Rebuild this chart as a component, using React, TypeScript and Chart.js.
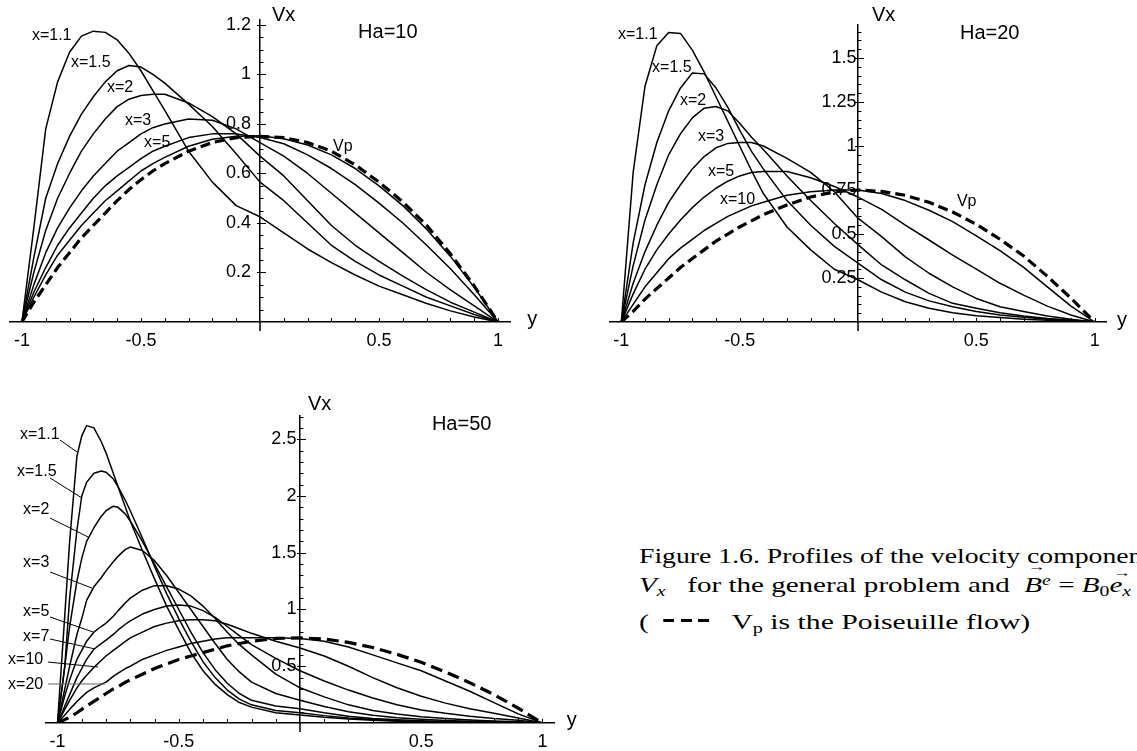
import React, { useEffect, useRef } from "react";
import { Chart, registerables } from "chart.js";

Chart.register(...registerables);

const SANS = '"Liberation Sans", Arial, Helvetica, sans-serif';
const SERIF = '"Liberation Serif", "Times New Roman", Times, serif';

// ---------------- Ha = 10 ----------------
const ha10Grid = [-1, -0.95, -0.9, -0.85, -0.8, -0.75, -0.7, -0.65, -0.6, -0.55, -0.5, -0.45, -0.4, -0.3, -0.2, -0.1, 0, 0.1, 0.2, 0.3, 0.4, 0.5, 0.6, 0.7, 0.8, 0.9, 1];
const ha10X11 = [0, 0.38, 0.78, 0.97, 1.09, 1.155, 1.175, 1.17, 1.14, 1.085, 1.015, 0.935, 0.855, 0.69, 0.565, 0.47, 0.425, 0.36, 0.295, 0.24, 0.19, 0.145, 0.11, 0.075, 0.045, 0.02, 0];
const ha10X15 = [0, 0.26, 0.5, 0.64, 0.75, 0.84, 0.91, 0.97, 1.015, 1.036, 1.03, 1.0, 0.965, 0.88, 0.79, 0.68, 0.565, 0.49, 0.4, 0.31, 0.245, 0.19, 0.145, 0.1, 0.065, 0.03, 0];
const ha10X2 = [0, 0.2, 0.37, 0.5, 0.6, 0.69, 0.76, 0.82, 0.87, 0.9, 0.915, 0.92, 0.92, 0.885, 0.83, 0.76, 0.67, 0.59, 0.49, 0.39, 0.31, 0.245, 0.185, 0.13, 0.08, 0.04, 0];
const ha10X3 = [0, 0.15, 0.28, 0.38, 0.46, 0.53, 0.59, 0.64, 0.69, 0.725, 0.76, 0.785, 0.8, 0.82, 0.815, 0.78, 0.725, 0.67, 0.6, 0.52, 0.44, 0.36, 0.28, 0.2, 0.13, 0.065, 0];
const ha10X5 = [0, 0.12, 0.22, 0.31, 0.38, 0.44, 0.5, 0.55, 0.59, 0.625, 0.66, 0.69, 0.71, 0.745, 0.76, 0.76, 0.745, 0.72, 0.675, 0.62, 0.555, 0.48, 0.4, 0.31, 0.215, 0.11, 0];
const ha10X10 = [0, 0.1, 0.19, 0.27, 0.33, 0.39, 0.44, 0.49, 0.53, 0.57, 0.61, 0.64, 0.665, 0.71, 0.738, 0.75, 0.752, 0.74, 0.715, 0.675, 0.62, 0.55, 0.47, 0.375, 0.265, 0.14, 0];
const ha10Vp = [0, 0.08, 0.15, 0.22, 0.28, 0.34, 0.39, 0.44, 0.49, 0.535, 0.575, 0.61, 0.64, 0.69, 0.725, 0.745, 0.75, 0.745, 0.725, 0.69, 0.635, 0.565, 0.485, 0.39, 0.275, 0.145, 0];
const ha10YTicks = [0.2, 0.4, 0.6, 0.8, 1, 1.2];
const ha10YTickLabels = ["0.2", "0.4", "0.6", "0.8", "1", "1.2"];

// ---------------- Ha = 20 ----------------
const ha20Grid = [-1, -0.95, -0.9, -0.85, -0.8, -0.75, -0.7, -0.65, -0.6, -0.55, -0.5, -0.45, -0.4, -0.3, -0.2, -0.1, 0, 0.1, 0.2, 0.3, 0.4, 0.5, 0.6, 0.7, 0.8, 0.9, 1];
const ha20X11 = [0, 0.85, 1.34, 1.57, 1.645, 1.64, 1.545, 1.42, 1.28, 1.14, 1.0, 0.86, 0.73, 0.54, 0.41, 0.3, 0.24, 0.17, 0.115, 0.078, 0.053, 0.036, 0.025, 0.015, 0.01, 0.005, 0];
const ha20X15 = [0, 0.45, 0.78, 1.02, 1.2, 1.33, 1.415, 1.41, 1.33, 1.22, 1.09, 0.97, 0.87, 0.69, 0.55, 0.43, 0.335, 0.24, 0.17, 0.12, 0.087, 0.06, 0.04, 0.027, 0.015, 0.008, 0];
const ha20X2 = [0, 0.32, 0.58, 0.78, 0.95, 1.07, 1.16, 1.215, 1.225, 1.2, 1.13, 1.05, 0.98, 0.83, 0.69, 0.56, 0.44, 0.324, 0.24, 0.163, 0.106, 0.078, 0.053, 0.034, 0.02, 0.011, 0];
const ha20X3 = [0, 0.22, 0.4, 0.55, 0.68, 0.78, 0.87, 0.94, 0.99, 1.015, 1.02, 1.02, 1.0, 0.93, 0.85, 0.74, 0.59, 0.485, 0.37, 0.277, 0.2, 0.134, 0.087, 0.06, 0.034, 0.015, 0];
const ha20X5 = [0, 0.16, 0.3, 0.41, 0.5, 0.58, 0.65, 0.71, 0.76, 0.8, 0.83, 0.85, 0.855, 0.855, 0.82, 0.77, 0.71, 0.64, 0.55, 0.466, 0.38, 0.3, 0.22, 0.153, 0.09, 0.04, 0];
const ha20X10 = [0, 0.1, 0.2, 0.28, 0.36, 0.42, 0.47, 0.52, 0.56, 0.6, 0.63, 0.66, 0.68, 0.72, 0.74, 0.75, 0.75, 0.73, 0.69, 0.635, 0.57, 0.49, 0.405, 0.31, 0.2, 0.09, 0];
const ha20Vp = [0, 0.06, 0.13, 0.19, 0.25, 0.31, 0.36, 0.41, 0.46, 0.5, 0.54, 0.575, 0.61, 0.665, 0.71, 0.74, 0.75, 0.742, 0.72, 0.68, 0.625, 0.555, 0.47, 0.375, 0.26, 0.135, 0];
const ha20YTicks = [0.25, 0.5, 0.75, 1, 1.25, 1.5];
const ha20YTickLabels = ["0.25", "0.5", "0.75", "1", "1.25", "1.5"];

// ---------------- Ha = 50 ----------------
const ha50Grid = [-1, -0.97, -0.95, -0.92, -0.9, -0.88, -0.85, -0.82, -0.8, -0.77, -0.75, -0.72, -0.7, -0.65, -0.6, -0.55, -0.5, -0.45, -0.4, -0.35, -0.3, -0.25, -0.2, -0.1, 0, 0.1, 0.2, 0.3, 0.4, 0.5, 0.6, 0.7, 0.8, 0.9, 1];
const ha50X11 = [0, 0.95, 1.6, 2.35, 2.53, 2.62, 2.6, 2.48, 2.38, 2.2, 2.08, 1.9, 1.78, 1.52, 1.27, 1.03, 0.82, 0.62, 0.46, 0.34, 0.25, 0.18, 0.14, 0.09, 0.07, 0.05, 0.035, 0.024, 0.016, 0.011, 0.008, 0.005, 0.003, 0.002, 0];
const ha50X15 = [0, 0.5, 1.1, 1.7, 2.0, 2.12, 2.2, 2.22, 2.21, 2.15, 2.08, 1.96, 1.87, 1.63, 1.38, 1.14, 0.92, 0.72, 0.54, 0.4, 0.29, 0.21, 0.16, 0.11, 0.09, 0.065, 0.045, 0.03, 0.02, 0.014, 0.01, 0.007, 0.004, 0.002, 0];
const ha50X2 = [0, 0.5, 0.85, 1.25, 1.45, 1.6, 1.72, 1.82, 1.87, 1.91, 1.9, 1.84, 1.78, 1.6, 1.4, 1.2, 1.0, 0.8, 0.62, 0.47, 0.35, 0.26, 0.2, 0.15, 0.125, 0.09, 0.06, 0.04, 0.028, 0.02, 0.014, 0.01, 0.006, 0.003, 0];
const ha50X3 = [0, 0.3, 0.5, 0.78, 0.92, 1.08, 1.2, 1.28, 1.34, 1.42, 1.47, 1.53, 1.55, 1.52, 1.43, 1.3, 1.15, 1.0, 0.85, 0.7, 0.56, 0.45, 0.36, 0.26, 0.2, 0.145, 0.1, 0.068, 0.047, 0.033, 0.022, 0.015, 0.01, 0.005, 0];
const ha50X5 = [0, 0.24, 0.38, 0.56, 0.64, 0.72, 0.8, 0.85, 0.88, 0.94, 0.99, 1.06, 1.1, 1.17, 1.21, 1.21, 1.18, 1.12, 1.03, 0.92, 0.8, 0.69, 0.6, 0.43, 0.31, 0.23, 0.16, 0.11, 0.08, 0.055, 0.04, 0.027, 0.018, 0.01, 0];
const ha50X7 = [0, 0.15, 0.25, 0.4, 0.48, 0.56, 0.65, 0.7, 0.73, 0.78, 0.82, 0.87, 0.9, 0.96, 1.0, 1.03, 1.04, 1.03, 0.99, 0.93, 0.85, 0.77, 0.69, 0.57, 0.46, 0.37, 0.29, 0.22, 0.16, 0.115, 0.085, 0.06, 0.04, 0.025, 0];
const ha50X10 = [0, 0.12, 0.2, 0.31, 0.37, 0.42, 0.49, 0.55, 0.59, 0.64, 0.67, 0.72, 0.75, 0.8, 0.85, 0.88, 0.9, 0.91, 0.91, 0.9, 0.87, 0.83, 0.79, 0.72, 0.66, 0.59, 0.5, 0.4, 0.31, 0.235, 0.175, 0.125, 0.085, 0.045, 0];
const ha50X20 = [0, 0.07, 0.12, 0.19, 0.23, 0.27, 0.31, 0.34, 0.36, 0.41, 0.44, 0.48, 0.5, 0.56, 0.6, 0.64, 0.67, 0.7, 0.72, 0.74, 0.75, 0.752, 0.752, 0.75, 0.745, 0.72, 0.67, 0.6, 0.53, 0.46, 0.37, 0.28, 0.18, 0.08, 0];
const ha50Vp = [0, 0.03, 0.05, 0.09, 0.12, 0.15, 0.19, 0.23, 0.26, 0.3, 0.32, 0.36, 0.38, 0.43, 0.48, 0.52, 0.56, 0.59, 0.62, 0.65, 0.68, 0.7, 0.72, 0.745, 0.75, 0.74, 0.71, 0.665, 0.605, 0.535, 0.45, 0.355, 0.25, 0.13, 0];
const ha50YTicks = [0.5, 1, 1.5, 2, 2.5];
const ha50YTickLabels = ["0.5", "1", "1.5", "2", "2.5"];

// shared x axis ticks
const xTicks = [-1, -0.5, 0.5, 1];
const xTickLabels = ["-1", "-0.5", "0.5", "1"];

type Note = { text: string; x: number; y: number; size: number };
type Leader = { x1: number; y1: number; x2: number; y2: number; color: string };

const ha10Notes: Note[] = [
  { text: "x=1.1", x: -0.958, y: 1.156, size: 16 },
  { text: "x=1.5", x: -0.794, y: 1.046, size: 16 },
  { text: "x=2", x: -0.643, y: 0.945, size: 16 },
  { text: "x=3", x: -0.567, y: 0.812, size: 16 },
  { text: "x=5", x: -0.487, y: 0.723, size: 16 },
  { text: "Vp", x: 0.307, y: 0.707, size: 16 },
  { text: "Vx", x: 0.05, y: 1.24, size: 20 },
  { text: "Ha=10", x: 0.412, y: 1.168, size: 20 },
  { text: "y", x: 1.122, y: 0.012, size: 20 },
];
const ha20Notes: Note[] = [
  { text: "x=1.1", x: -1.014, y: 1.631, size: 16 },
  { text: "x=1.5", x: -0.87, y: 1.443, size: 16 },
  { text: "x=2", x: -0.752, y: 1.261, size: 16 },
  { text: "x=3", x: -0.676, y: 1.051, size: 16 },
  { text: "x=5", x: -0.634, y: 0.852, size: 16 },
  { text: "x=10", x: -0.583, y: 0.693, size: 16 },
  { text: "Vp", x: 0.418, y: 0.682, size: 16 },
  { text: "Vx", x: 0.059, y: 1.744, size: 20 },
  { text: "Ha=20", x: 0.431, y: 1.642, size: 20 },
  { text: "y", x: 1.094, y: 0.011, size: 20 },
];
const ha50Notes: Note[] = [
  { text: "x=1.1", x: -1.155, y: 2.537, size: 16 },
  { text: "x=1.5", x: -1.167, y: 2.211, size: 16 },
  { text: "x=2", x: -1.142, y: 1.877, size: 16 },
  { text: "x=3", x: -1.142, y: 1.41, size: 16 },
  { text: "x=5", x: -1.142, y: 0.978, size: 16 },
  { text: "x=7", x: -1.142, y: 0.758, size: 16 },
  { text: "x=10", x: -1.204, y: 0.555, size: 16 },
  { text: "x=20", x: -1.204, y: 0.335, size: 16 },
  { text: "Vx", x: 0.033, y: 2.802, size: 20 },
  { text: "Ha=50", x: 0.544, y: 2.626, size: 20 },
  { text: "y", x: 1.1, y: 0.026, size: 20 },
];
const ha50Leaders: Leader[] = [
  { x1: -0.99, y1: 2.493, x2: -0.92, y2: 2.388, color: "#000" },
  { x1: -1.031, y1: 2.159, x2: -0.899, y2: 1.982, color: "#000" },
  { x1: -1.031, y1: 1.806, x2: -0.874, y2: 1.639, color: "#000" },
  { x1: -1.031, y1: 1.33, x2: -0.858, y2: 1.189, color: "#000" },
  { x1: -1.031, y1: 0.934, x2: -0.854, y2: 0.802, color: "#000" },
  { x1: -1.031, y1: 0.74, x2: -0.845, y2: 0.652, color: "#000" },
  { x1: -1.039, y1: 0.537, x2: -0.833, y2: 0.493, color: "#000" },
  { x1: -1.039, y1: 0.344, x2: -0.804, y2: 0.344, color: "#666" },
];

function steps(from: number, to: number, step: number): number[] {
  const out: number[] = [];
  const n = Math.round((to - from) / step);
  for (let i = 0; i <= n; i++) {
    const v = +(from + i * step).toFixed(4);
    if (Math.abs(v) > 1e-9) out.push(v);
  }
  return out;
}

interface PlotCfg {
  left: number; top: number; width: number; height: number;
  pad: { left: number; right: number; top: number; bottom: number };
  yMax: number;
  grid: number[];
  series: number[][];
  vp: number[];
  dash: number[];
  yTicks: number[]; yTickLabels: string[];
  yMinor: number[];
  yGap: string;
  notes: Note[];
  leaders: Leader[];
}

function Plot({ cfg }: { cfg: PlotCfg }) {
  const ref = useRef<HTMLCanvasElement | null>(null);
  useEffect(() => {
    const canvas = ref.current;
    if (!canvas) return;
    const xMinor = steps(-1, 1, 0.1);
    const deco = {
      id: "deco",
      afterDraw(chart: any) {
        const ctx = chart.ctx;
        const xs = chart.scales.x;
        const ys = chart.scales.y;
        const x0 = xs.getPixelForValue(0);
        const y0 = ys.getPixelForValue(0);
        ctx.save();
        ctx.strokeStyle = "#000";
        ctx.lineWidth = 1;
        ctx.beginPath();
        xMinor.forEach((v) => {
          const p = Math.round(xs.getPixelForValue(v)) + 0.5;
          ctx.moveTo(p, y0);
          ctx.lineTo(p, y0 - 4);
        });
        cfg.yMinor.forEach((v) => {
          const p = Math.round(ys.getPixelForValue(v)) + 0.5;
          ctx.moveTo(x0, p);
          ctx.lineTo(x0 + 3.5, p);
        });
        cfg.yTicks.forEach((v) => {
          const p = Math.round(ys.getPixelForValue(v)) + 0.5;
          ctx.moveTo(x0 - 3, p);
          ctx.lineTo(x0 + 6, p);
        });
        ctx.stroke();
        ctx.lineWidth = 1.5;
        ctx.beginPath();
        ctx.moveTo(x0, y0);
        ctx.lineTo(x0, y0 + 9);
        ctx.stroke();
        cfg.leaders.forEach((l) => {
          ctx.strokeStyle = l.color;
          ctx.lineWidth = 1;
          ctx.beginPath();
          ctx.moveTo(xs.getPixelForValue(l.x1), ys.getPixelForValue(l.y1));
          ctx.lineTo(xs.getPixelForValue(l.x2), ys.getPixelForValue(l.y2));
          ctx.stroke();
        });
        ctx.fillStyle = "#000";
        ctx.textAlign = "left";
        ctx.textBaseline = "middle";
        cfg.notes.forEach((n) => {
          ctx.font = `${n.size}px ${SANS}`;
          ctx.fillText(n.text, xs.getPixelForValue(n.x), ys.getPixelForValue(n.y));
        });
        ctx.restore();
      },
    };
    const pts = (vals: number[]) => cfg.grid.map((g, i) => ({ x: g, y: vals[i] }));
    const datasets: any[] = cfg.series.map((vals) => ({
      data: pts(vals),
      borderColor: "#000",
      borderWidth: 1.5,
      pointRadius: 0,
      fill: false,
      tension: 0,
      borderJoinStyle: "round",
    }));
    datasets.push({
      data: pts(cfg.vp),
      borderColor: "#000",
      borderWidth: 3.2,
      borderDash: cfg.dash,
      pointRadius: 0,
      fill: false,
      tension: 0,
    });
    const chart = new Chart(canvas, {
      type: "line",
      data: { datasets },
      options: {
        animation: false,
        responsive: false,
        maintainAspectRatio: false,
        devicePixelRatio: 1,
        layout: { padding: cfg.pad },
        plugins: { legend: { display: false }, tooltip: { enabled: false } },
        scales: {
          x: {
            type: "linear",
            min: -1.05,
            max: 1.05,
            position: { y: 0 } as any,
            grid: { display: false, drawTicks: false },
            border: { display: true, color: "#000", width: 1.5 },
            afterBuildTicks: (s: any) => {
              s.ticks = xTicks.map((v) => ({ value: v }));
            },
            ticks: {
              autoSkip: false,
              maxRotation: 0,
              padding: 8,
              color: "#000",
              font: { family: SANS, size: 18 },
              callback: (_v: any, i: number) => xTickLabels[i],
            },
          },
          y: {
            type: "linear",
            min: 0,
            max: cfg.yMax,
            position: { x: 0 } as any,
            grid: { display: false, drawTicks: false },
            border: { display: true, color: "#000", width: 1.5 },
            afterBuildTicks: (s: any) => {
              s.ticks = cfg.yTicks.map((v) => ({ value: v }));
            },
            ticks: {
              autoSkip: false,
              padding: 0,
              color: "#000",
              font: { family: SANS, size: 18 },
              callback: (_v: any, i: number) => cfg.yTickLabels[i] + cfg.yGap,
            },
          },
        },
      },
      plugins: [deco],
    });
    return () => chart.destroy();
  }, []);
  return (
    <canvas
      ref={ref}
      width={cfg.width}
      height={cfg.height}
      style={{ position: "absolute", left: cfg.left, top: cfg.top, width: cfg.width, height: cfg.height }}
    />
  );
}

const plot10: PlotCfg = {
  left: 0, top: 0, width: 560, height: 360,
  pad: { left: 10, right: 50, top: 20, bottom: 38 },
  yMax: 1.22,
  grid: ha10Grid,
  series: [ha10X11, ha10X15, ha10X2, ha10X3, ha10X5, ha10X10],
  vp: ha10Vp,
  dash: [10, 5],
  yTicks: ha10YTicks, yTickLabels: ha10YTickLabels,
  yMinor: steps(0, 1.2, 0.05),
  yGap: "\u2002",
  notes: ha10Notes,
  leaders: [],
};
const plot20: PlotCfg = {
  left: 570, top: 0, width: 567, height: 360,
  pad: { left: 39.5, right: 30.5, top: 24.6, bottom: 38 },
  yMax: 1.69,
  grid: ha20Grid,
  series: [ha20X11, ha20X15, ha20X2, ha20X3, ha20X5, ha20X10],
  vp: ha20Vp,
  dash: [10, 5],
  yTicks: ha20YTicks, yTickLabels: ha20YTickLabels,
  yMinor: steps(0, 1.65, 0.05),
  yGap: "\u200a",
  notes: ha20Notes,
  leaders: [],
};
const plot50: PlotCfg = {
  left: 0, top: 380, width: 600, height: 371,
  pad: { left: 45.4, right: 45.4, top: 35.4, bottom: 28 },
  yMax: 2.71,
  grid: ha50Grid,
  series: [ha50X11, ha50X15, ha50X2, ha50X3, ha50X5, ha50X7, ha50X10, ha50X20],
  vp: ha50Vp,
  dash: [12, 6],
  yTicks: ha50YTicks, yTickLabels: ha50YTickLabels,
  yMinor: steps(0, 2.7, 0.1),
  yGap: "\u2009",
  notes: ha50Notes,
  leaders: ha50Leaders,
};

function Vec({ ch, top }: { ch: string; top: string }) {
  return (
    <span style={{ position: "relative", display: "inline-block" }}>
      <i>{ch}</i>
      <span
        style={{
          position: "absolute",
          left: "0.2em",
          top,
          fontSize: "0.6em",
          fontStyle: "normal",
          lineHeight: 1,
        }}
      >
        →
      </span>
    </span>
  );
}

const capLine: React.CSSProperties = {
  position: "absolute",
  left: 639,
  fontFamily: SERIF,
  fontSize: 22,
  lineHeight: "22px",
  whiteSpace: "nowrap",
  color: "#000",
  transform: "scaleX(1.32)",
  transformOrigin: "0 0",
};
const subStyle: React.CSSProperties = { fontSize: "0.68em", position: "relative", top: "0.3em", lineHeight: 0 };
const supStyle: React.CSSProperties = { fontSize: "0.68em", position: "relative", top: "-0.45em", lineHeight: 0 };

export default function App() {
  return (
    <div
      style={{
        position: "absolute",
        left: 0,
        top: 0,
        width: 1137,
        height: 751,
        background: "#fff",
        overflow: "hidden",
      }}
    >
      <Plot cfg={plot10} />
      <Plot cfg={plot20} />
      <Plot cfg={plot50} />
      <div style={{ ...capLine, top: 545, transform: "scaleX(1.26)" }}>
        Figure 1.6. Profiles of the velocity components
      </div>
      <div style={{ ...capLine, top: 574 }}>
        <i>V</i>
        <span style={subStyle}>
          <i>x</i>
        </span>
        {"\u00a0\u00a0 for the general problem and\u00a0 "}
        <Vec ch="B" top="-1.05em" />
        <span style={supStyle}>
          <i>e</i>
        </span>
        {" = "}
        <i>B</i>
        <span style={subStyle}>0</span>
        <Vec ch="e" top="-0.6em" />
        <span style={subStyle}>
          <i>x</i>
        </span>
      </div>
      <div style={{ ...capLine, top: 611, transform: "scaleX(1.35)" }}>
        {"(\u00a0 "}
        <span
          style={{
            display: "inline-block",
            width: 34,
            height: 3,
            verticalAlign: "0.3em",
            background: "repeating-linear-gradient(90deg, #000 0px, #000 8px, transparent 8px, transparent 13px)",
          }}
        />
        {"\u00a0\u00a0 V"}
        <span style={subStyle}>p</span>
        {" is the Poiseuille flow)"}
      </div>
    </div>
  );
}
